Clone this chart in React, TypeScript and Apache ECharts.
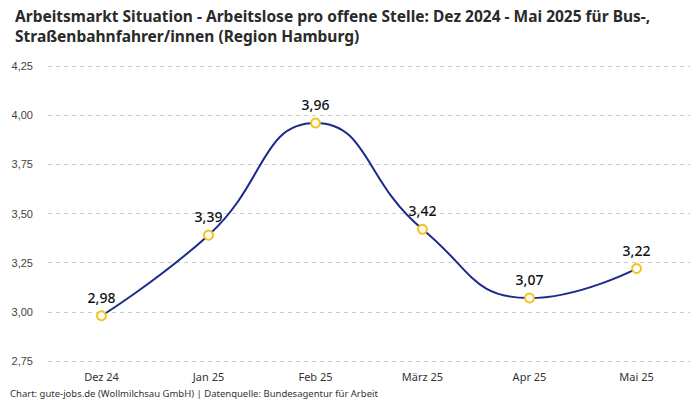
import React, { useEffect, useRef } from "react";
import * as echarts from "echarts";

const categories = ["Dez 24", "Jan 25", "Feb 25", "März 25", "Apr 25", "Mai 25"];
const values = [2.98, 3.39, 3.96, 3.42, 3.07, 3.22];
const titleText = "Arbeitsmarkt Situation - Arbeitslose pro offene Stelle: Dez 2024 - Mai 2025 für Bus-,\nStraßenbahnfahrer/innen (Region Hamburg)";
const footerText = "Chart: gute-jobs.de (Wollmilchsau GmbH) | Datenquelle: Bundesagentur für Arbeit";

const fmt = (v: number) => v.toFixed(2).replace(".", ",");

export default function App() {
  const ref = useRef<HTMLDivElement>(null);
  useEffect(() => {
    const chart = echarts.init(ref.current!, null, { renderer: "svg" });
    chart.setOption({
      animation: false,
      backgroundColor: "#ffffff",
      textStyle: { fontFamily: "'Noto Sans', sans-serif" },
      title: {
        text: titleText,
        left: 10,
        top: 1,
        textStyle: { fontSize: 15.5, fontWeight: "bold", color: "#2a2a2a", lineHeight: 20, fontFamily: "'Noto Sans', sans-serif" },
      },
      graphic: [
        {
          type: "text",
          left: 10,
          top: 388,
          style: { text: footerText, fontSize: 9.5, fill: "#333333", fontFamily: "'Noto Sans', sans-serif" },
        },
      ],
      grid: { left: 48, right: 10, top: 66, bottom: 39 },
      xAxis: {
        type: "category",
        data: categories,
        boundaryGap: true,
        axisLine: { show: false },
        axisTick: { show: false },
        axisLabel: { fontSize: 11, color: "#333333", margin: 10, fontFamily: "'Noto Sans', sans-serif" },
      },
      yAxis: {
        type: "value",
        min: 2.75,
        max: 4.25,
        interval: 0.25,
        axisLabel: { fontSize: 11, color: "#444444", margin: 15, formatter: (v: number) => fmt(v), fontFamily: "'Liberation Sans', Arial, sans-serif" },
        splitLine: { lineStyle: { type: [4, 4], color: "#cccccc", width: 1 } },
        axisLine: { show: false },
        axisTick: { show: false },
      },
      series: [
        {
          type: "line",
          data: values,
          smooth: 0.5,
          symbol: "circle",
          symbolSize: 9,
          lineStyle: { color: "#1c2a8c", width: 2 },
          itemStyle: { color: "#ffffff", borderColor: "#f6c21c", borderWidth: 2 },
          label: {
            show: true,
            position: "top",
            distance: 6,
            formatter: (p: any) => fmt(p.value),
            fontSize: 14,
            fontWeight: 500,
            color: "#111111",
            fontFamily: "'Noto Sans', sans-serif",
          },
        },
      ],
    });
    return () => chart.dispose();
  }, []);
  return <div ref={ref} style={{ width: 700, height: 400, position: "absolute", left: 0, top: 0 }} />;
}
